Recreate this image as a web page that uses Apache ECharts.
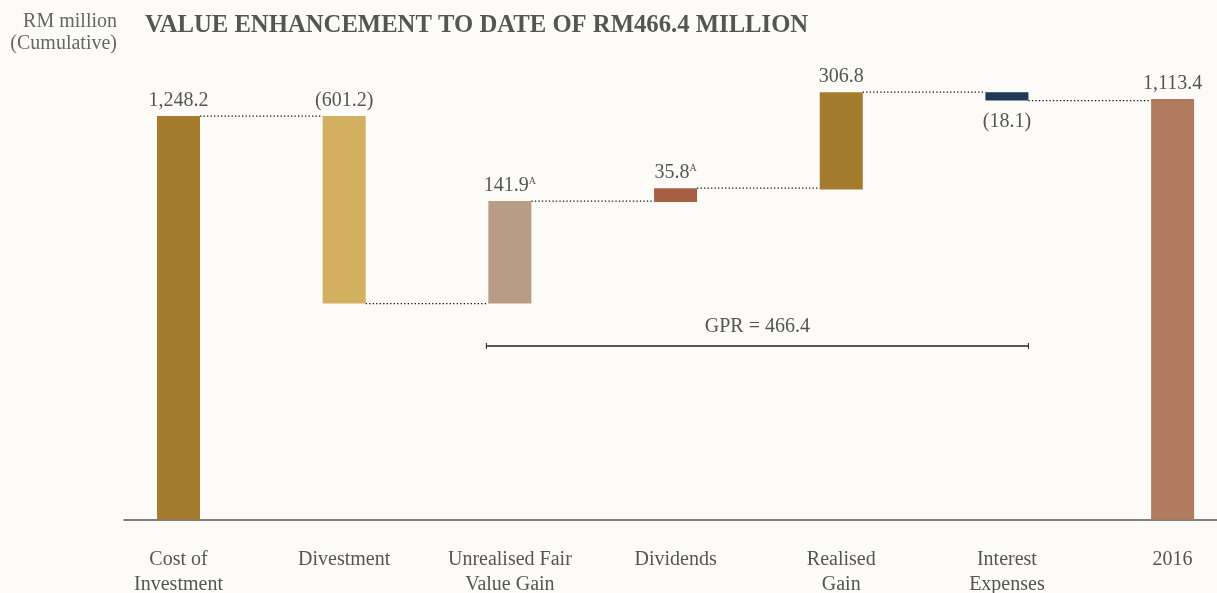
<!doctype html>
<html lang="en">
<head>
    <meta charset="UTF-8">
    <title>Value enhancement to date</title>
    <script type="text/javascript" src="https://cdn.jsdelivr.net/npm/echarts@6/dist/echarts.min.js"></script>
    <style>
        html, body { margin: 0; padding: 0; background: #fcfbf7; }
        #main { width: 1217px; height: 593px; }
    </style>
</head>
<body>
<div id="main"></div>
<script>
    // categories and amounts (RM million)
    var categories = ['Cost of\nInvestment', 'Divestment', 'Unrealised Fair\nValue Gain', 'Dividends', 'Realised\nGain', 'Interest\nExpenses', '2016'];
    var amounts = [1248.2, -601.2, 141.9, 35.8, 306.8, -18.1, 1113.4];
    var notes = ['', '', 'A', 'A', '', '', ''];
    // the original artwork is not drawn to scale, so the bar ends are read off the picture
    var barLow = [0, 668, 668, 982, 1021, 1296, 0];
    var barHigh = [1248.2, 1248.2, 985, 1025, 1322, 1322, 1301];
    var gprText = 'GPR = 466.4';
    var gprFrom = 2, gprTo = 5, gprLevel = 537;

    var colors = ['#a57b2d', '#d3b05f', '#b99c85', '#a85e43', '#a57b2d', '#213a55', '#b27a5e'];
    var FONT = '"Liberation Serif", "DejaVu Serif", serif';
    var BAR_W = 43;

    function fmt(v) {
        var s = Math.abs(v).toFixed(1).replace(/\B(?=(\d{3})+(?!\d))/g, ',');
        return v < 0 ? '(' + s + ')' : s;
    }

    var chart = echarts.init(document.getElementById('main'));

    var barData = [];
    for (var i = 0; i < categories.length; i++) {
        // connector level = where the running total ends after this bar
        var end = amounts[i] < 0 ? barLow[i] : barHigh[i];
        barData.push([i, barLow[i], barHigh[i], end]);
    }

    function renderBar(params, api) {
        var i = api.value(0);
        var top = api.coord([i, api.value(2)]);
        var bot = api.coord([i, api.value(1)]);
        var children = [{
            type: 'rect',
            shape: {x: top[0] - BAR_W / 2, y: top[1], width: BAR_W, height: bot[1] - top[1]},
            style: {fill: colors[i]}
        }];
        if (i < categories.length - 1) {
            var c = api.coord([i, api.value(3)]);
            var nx = api.coord([i + 1, 0])[0];
            children.push({
                type: 'line',
                shape: {x1: c[0] + BAR_W / 2, y1: c[1], x2: nx - BAR_W / 2, y2: c[1]},
                style: {stroke: '#111', lineWidth: 1.2, lineDash: [1.3, 2.2]}
            });
        }
        var below = i === 5;
        var txt = '{v|' + fmt(amounts[i]) + '}' + (notes[i] ? '{s|' + notes[i] + '}' : '');
        children.push({
            type: 'text',
            x: top[0],
            y: below ? bot[1] + 11 : top[1] - 5,
            style: {
                text: txt,
                align: 'center',
                verticalAlign: below ? 'top' : 'bottom',
                rich: {
                    v: {fontFamily: FONT, fontSize: 20, fill: '#555'},
                    s: {fontFamily: FONT, fontSize: 10, fill: '#555', verticalAlign: 'top', padding: [0, 0, 9, 0]}
                }
            }
        });
        return {type: 'group', children: children};
    }

    function renderGpr(params, api) {
        var a = api.coord([gprFrom, gprLevel]);
        var b = api.coord([gprTo, gprLevel]);
        var x1 = a[0] - BAR_W / 2 - 2, x2 = b[0] + BAR_W / 2;
        return {
            type: 'group',
            children: [
                {type: 'line', shape: {x1: x1, y1: a[1], x2: x2, y2: a[1]}, style: {stroke: '#222', lineWidth: 1.5}},
                {type: 'line', shape: {x1: x1, y1: a[1] - 3, x2: x1, y2: a[1] + 3}, style: {stroke: '#222', lineWidth: 1}},
                {type: 'line', shape: {x1: x2, y1: a[1] - 3, x2: x2, y2: a[1] + 3}, style: {stroke: '#222', lineWidth: 1}},
                {type: 'text', x: (x1 + x2) / 2, y: a[1] - 9,
                    style: {text: gprText, align: 'center', verticalAlign: 'bottom', fontFamily: FONT, fontSize: 20, fill: '#555'}}
            ]
        };
    }

    chart.setOption({
        backgroundColor: '#fcfbf7',
        animation: false,
        title: {
            text: 'VALUE ENHANCEMENT TO DATE OF RM466.4 MILLION',
            left: 140, top: 8,
            textStyle: {fontFamily: FONT, fontSize: 24.7, fontWeight: 'bold', color: '#555'}
        },
        graphic: [{
            type: 'text',
            x: 117, y: 11,
            style: {
                text: 'RM million\n(Cumulative)',
                align: 'right', verticalAlign: 'top',
                fontFamily: FONT, fontSize: 20, lineHeight: 22, fill: '#666'
            }
        }],
        grid: {left: 124, right: 0, top: 40, bottom: 73.5, outerBoundsMode: 'none'},
        xAxis: {
            type: 'value',
            min: -0.329, max: 6.268,
            splitLine: {show: false},
            axisTick: {show: false},
            axisLine: {show: true, lineStyle: {color: '#555', width: 1.5}},
            axisLabel: {
                customValues: [0, 1, 2, 3, 4, 5, 6],
                formatter: function (v) { return categories[Math.round(v)]; },
                margin: 28,
                fontFamily: FONT, fontSize: 20, color: '#555', lineHeight: 25
            }
        },
        yAxis: {
            type: 'value', min: 0, max: 1483.4,
            show: false, splitLine: {show: false}
        },
        series: [{
            type: 'custom',
            renderItem: renderBar,
            data: barData,
            clip: false
        }, {
            type: 'custom',
            renderItem: renderGpr,
            data: [[gprFrom]],
            clip: false
        }]
    });
</script>
</body>
</html>
